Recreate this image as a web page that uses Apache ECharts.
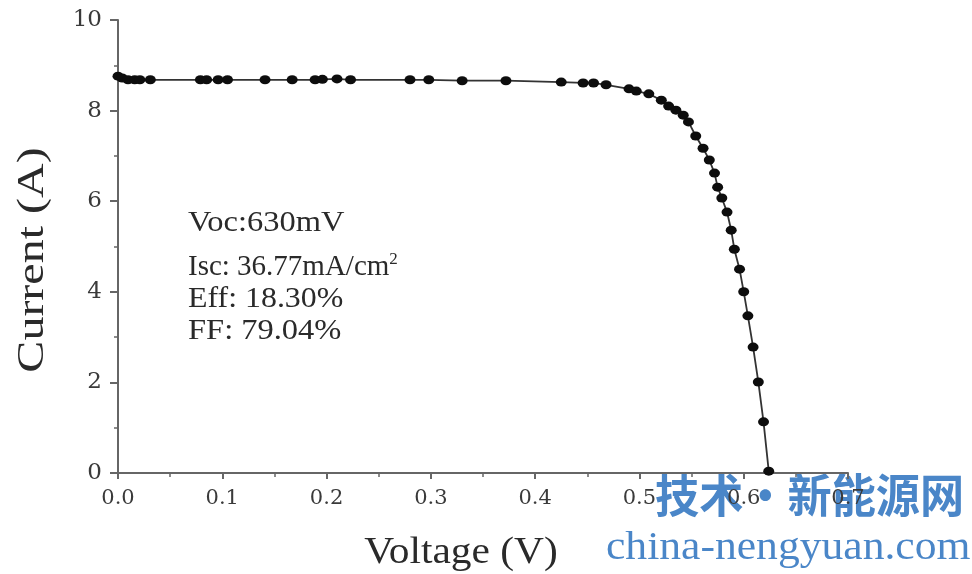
<!DOCTYPE html>
<html>
<head>
<meta charset="utf-8">
<script src="https://cdn.jsdelivr.net/npm/echarts@6/dist/echarts.min.js"></script>
<style>html,body{margin:0;padding:0;background:#fff}#c{width:972px;height:574px}</style>
</head>
<body>
<div id="c"></div>
<script>
const voltage = [0.000,0.004,0.0096,0.016,0.021,0.031,0.079,0.085,0.096,0.105,0.141,0.167,0.189,0.196,0.210,0.223,0.280,0.298,0.330,0.372,0.425,0.446,0.456,0.468,0.490,0.497,0.509,0.521,0.528,0.535,0.542,0.547,0.554,0.561,0.567,0.572,0.575,0.579,0.584,0.588,0.591,0.596,0.600,0.604,0.609,0.614,0.619,0.624];
const current = [8.76,8.72,8.68,8.68,8.68,8.68,8.68,8.68,8.68,8.68,8.68,8.68,8.68,8.69,8.70,8.68,8.68,8.68,8.66,8.66,8.63,8.61,8.61,8.57,8.48,8.43,8.37,8.23,8.10,8.01,7.90,7.75,7.44,7.17,6.91,6.62,6.31,6.07,5.76,5.36,4.94,4.50,4.00,3.47,2.78,2.01,1.13,0.04];
const annotations = ["Voc:630mV", "Isc: 36.77mA/cm", "Eff: 18.30%", "FF: 79.04%"];
const xTitle = "Voltage (V)";
const yTitle = "Current (A)";
const watermark = ["技术·新能源网", "china-nengyuan.com"];

const chart = echarts.init(document.getElementById('c'), null, {renderer:'canvas'});
const serif = "'Liberation Serif', 'DejaVu Serif', serif";
const tickFont = "'DejaVu Serif', serif";
const axisColor = '#666';
const txt = '#2a2a2a';
chart.setOption({
  animation: false,
  backgroundColor: '#fff',
  grid: {left: 118, right: 124, top: 20, bottom: 101, containLabel: false},
  xAxis: {
    type: 'value', min: 0, max: 0.7, interval: 0.1,
    axisLine: {onZero: false, lineStyle: {color: axisColor, width: 2}},
    axisTick: {inside: false, length: 6, lineStyle: {color: axisColor, width: 2}},
    minorTick: {show: true, splitNumber: 2, length: 4, lineStyle: {color: axisColor, width: 1.5}},
    splitLine: {show: false},
    axisLabel: {fontFamily: tickFont, fontSize: 21, color: '#3a3a3a', margin: 15, formatter: v => v.toFixed(1)}
  },
  yAxis: {
    type: 'value', min: 0, max: 10, interval: 2,
    axisLine: {show: true, onZero: false, lineStyle: {color: axisColor, width: 2}},
    axisTick: {show: true, inside: false, length: 8, lineStyle: {color: axisColor, width: 2}},
    minorTick: {show: true, splitNumber: 2, length: 4, lineStyle: {color: axisColor, width: 1.5}},
    splitLine: {show: false},
    axisLabel: {fontFamily: tickFont, fontSize: 23, color: '#3a3a3a', margin: 16}
  },
  series: [{
    type: 'line',
    data: voltage.map((v, i) => [v, current[i]]),
    symbol: 'circle',
    symbolSize: [11, 9],
    itemStyle: {color: '#0d0d0d'},
    lineStyle: {color: '#333', width: 1.8},
    z: 3
  }],
  graphic: [
    {type: 'text', x: 188, y: 223, scaleX: 1.12, style: {text: annotations[0], font: "29px " + serif, fill: txt, verticalAlign: 'middle'}},
    {type: 'text', x: 188, y: 267, scaleX: 1.0, style: {
      text: '{a|' + annotations[1] + '}{s|2}', verticalAlign: 'middle',
      rich: {a: {font: "29px " + serif, fill: txt, color: txt}, s: {font: "17px " + serif, fill: txt, color: txt, verticalAlign: 'top', padding: [0, 0, 14, 0]}}
    }},
    {type: 'text', x: 188, y: 299, scaleX: 1.1, style: {text: annotations[2], font: "29px " + serif, fill: txt, verticalAlign: 'middle'}},
    {type: 'text', x: 188, y: 331, scaleX: 1.12, style: {text: annotations[3], font: "29px " + serif, fill: txt, verticalAlign: 'middle'}},
    {type: 'text', x: 461, y: 553, scaleX: 1.09, style: {text: xTitle, font: "38px " + serif, fill: txt, align: 'center', verticalAlign: 'middle'}},
    {type: 'text', x: 33, y: 260, rotation: Math.PI / 2, scaleX: 1.2, scaleY: 0.95, style: {text: yTitle, font: "40px " + serif, fill: txt, align: 'center', verticalAlign: 'middle'}},
    {type: 'text', x: 655, y: 495, scaleX: 0.96, style: {text: watermark[0], font: "bold 46px 'Noto Sans CJK SC', sans-serif", fill: '#4a86c8', verticalAlign: 'middle'}},
    {type: 'text', x: 606, y: 548, scaleX: 1.09, style: {text: watermark[1], font: "40px " + serif, fill: '#4a86c8', verticalAlign: 'middle'}}
  ]
});
</script>
</body>
</html>
